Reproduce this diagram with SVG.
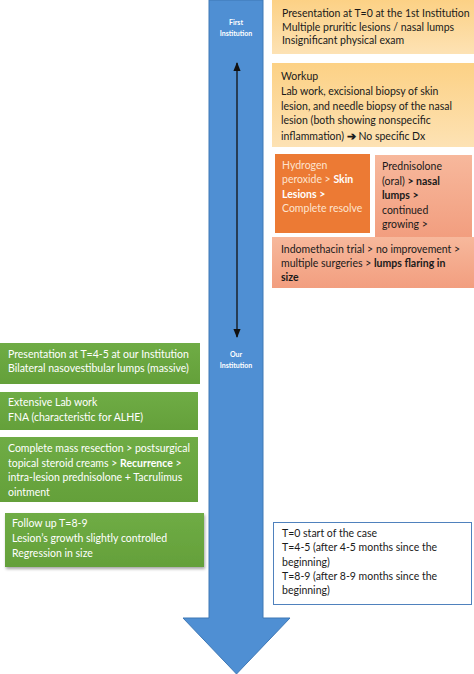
<svg xmlns="http://www.w3.org/2000/svg" width="474" height="674" viewBox="0 0 474 674">
<defs>
<linearGradient id="gy" x1="0" y1="0" x2="0" y2="1"><stop offset="0" stop-color="#fcd185"/><stop offset="1" stop-color="#fde2b4"/></linearGradient>
<linearGradient id="gs" x1="0" y1="0" x2="0" y2="1"><stop offset="0" stop-color="#f7b89c"/><stop offset="1" stop-color="#f29e7f"/></linearGradient>
<linearGradient id="gg" x1="0" y1="0" x2="0" y2="1"><stop offset="0" stop-color="#6fac45"/><stop offset="1" stop-color="#64a03a"/></linearGradient>
<filter id="sh" x="-10%" y="-10%" width="120%" height="130%"><feDropShadow dx="1" dy="2" stdDeviation="1.5" flood-color="#000" flood-opacity="0.35"/></filter>
<marker id="ah" viewBox="0 0 10 10" refX="9" refY="5" markerWidth="7" markerHeight="7" orient="auto-start-reverse"><path d="M0,1 L10,5 L0,9 z" fill="#111"/></marker>
<style>
text{font-family:Lato,"Open Sans","Liberation Sans",sans-serif;font-size:10.5px}
.k{fill:#1a1a1a}
.w{fill:#ffffff}
.p{fill:#fde3cf}
.b{font-weight:bold}
.lab{font-size:7px;font-weight:bold;fill:#ffffff;text-anchor:middle}
</style>
</defs>
<g id="timeline-arrow">
<path d="M209,0 L263,0 L263,618 L290,618 L236.5,674 L183,618 L209,618 Z" fill="#4f8fd3" stroke="#3f78b5" stroke-width="1"/>
<text class="lab" x="236" y="25">First</text>
<text class="lab" x="236" y="36">Institution</text>
<text class="lab" x="236" y="357">Our</text>
<text class="lab" x="236" y="368">Institution</text>
</g>
<g id="connectors">
<line x1="237" y1="63" x2="237" y2="337" stroke="#111" stroke-width="1.3" marker-start="url(#ah)" marker-end="url(#ah)"/>
</g>
<g id="n1">
<rect x="272" y="0" width="202" height="54" fill="url(#gy)"/>
<text class="k" x="282" y="17">Presentation at T=0 at the 1st Institution</text>
<text class="k" x="282" y="31">Multiple pruritic lesions / nasal lumps</text>
<text class="k" x="282" y="44">Insignificant physical exam</text>
</g>
<g id="n2">
<rect x="272" y="63" width="202" height="84" fill="url(#gy)"/>
<text class="k" x="281" y="80">Workup</text>
<text class="k" x="281" y="95">Lab work, excisional biopsy of skin</text>
<text class="k" x="281" y="110">lesion, and needle biopsy of the nasal</text>
<text class="k" x="281" y="124">lesion (both showing nonspecific</text>
<text class="k" x="281" y="140">inflammation) <tspan class="b">➔</tspan> No specific Dx</text>
</g>
<g id="n3">
<rect x="275" y="154" width="95" height="79" fill="#ec7a34"/>
<text class="p" x="282" y="169">Hydrogen</text>
<text class="p" x="282" y="183">peroxide &gt; <tspan class="w b">Skin</tspan></text>
<text class="w b" x="282" y="198">Lesions &gt;</text>
<text class="p" x="282" y="212">Complete resolve</text>
</g>
<g id="n4">
<rect x="375" y="155" width="97" height="82" fill="url(#gs)"/>
<text class="k" x="382" y="170">Prednisolone</text>
<text class="k" x="382" y="185">(oral) <tspan class="b">&gt; nasal</tspan></text>
<text class="k b" x="382" y="199">lumps &gt;</text>
<text class="k" x="382" y="214">continued</text>
<text class="k" x="382" y="228">growing &gt;</text>
</g>
<g id="n5">
<rect x="272" y="237" width="202" height="51" fill="url(#gs)"/>
<text class="k" x="281" y="253">Indomethacin trial &gt; no improvement &gt;</text>
<text class="k" x="281" y="267">multiple surgeries &gt; <tspan class="b">lumps flaring in</tspan></text>
<text class="k b" x="281" y="281">size</text>
</g>
<g id="g1">
<rect x="0" y="343" width="200" height="41" fill="url(#gg)"/>
<text class="w" x="8" y="358">Presentation at T=4-5 at our Institution</text>
<text class="w" x="8" y="372">Bilateral nasovestibular lumps (massive)</text>
</g>
<g id="g2">
<rect x="0" y="392" width="198" height="38" fill="url(#gg)"/>
<text class="w" x="8" y="406">Extensive Lab work</text>
<text class="w" x="8" y="421">FNA (characteristic for ALHE)</text>
</g>
<g id="g3">
<rect x="0" y="437" width="198" height="65" fill="url(#gg)"/>
<text class="w" x="8" y="452">Complete mass resection &gt; postsurgical</text>
<text class="w" x="8" y="467">topical steroid creams &gt; <tspan class="b">Recurrence</tspan> &gt;</text>
<text class="w" x="8" y="481">intra-lesion prednisolone + Tacrulimus</text>
<text class="w" x="8" y="496">ointment</text>
</g>
<g id="g4">
<rect x="5" y="513" width="199" height="54" fill="url(#gg)" filter="url(#sh)"/>
<text class="w" x="12" y="527">Follow up T=8-9</text>
<text class="w" x="12" y="542">Lesion’s growth slightly controlled</text>
<text class="w" x="12" y="557">Regression in size</text>
</g>
<g id="legend">
<rect x="273.5" y="522.5" width="198" height="82" fill="#ffffff" stroke="#4f81bd" stroke-width="1"/>
<text class="k" x="282" y="537">T=0 start of the case</text>
<text class="k" x="282" y="551">T=4-5 (after 4-5 months since the</text>
<text class="k" x="282" y="566">beginning)</text>
<text class="k" x="282" y="580">T=8-9 (after 8-9 months since the</text>
<text class="k" x="282" y="594">beginning)</text>
</g>
</svg>
